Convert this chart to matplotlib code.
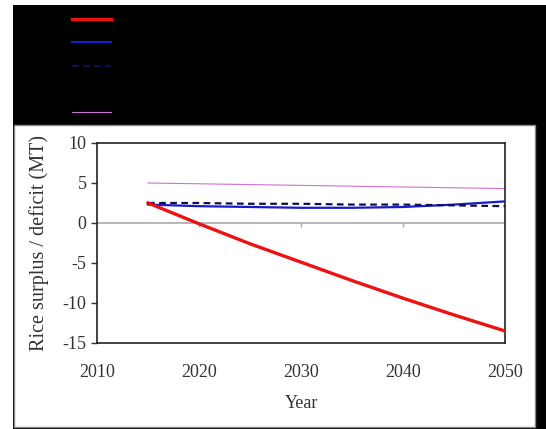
import matplotlib
matplotlib.use("Agg")
import matplotlib.pyplot as plt
from matplotlib.patches import Rectangle

# Projected rice balance by scenario (million tonnes)
years = [2015, 2020, 2025, 2030, 2035, 2040, 2045, 2050]
deficit_high = [2.5, -0.1, -2.6, -4.9, -7.2, -9.4, -11.5, -13.5]
balance_base = [2.3, 2.1, 2.0, 1.9, 1.9, 2.0, 2.3, 2.7]
balance_alt = [2.5, 2.5, 2.4, 2.4, 2.3, 2.3, 2.2, 2.1]
balance_other = [2.4, 2.2, 2.1, 2.0, 2.0, 2.1, 2.2, 2.4]
surplus_low = [5.0, 4.9, 4.8, 4.7, 4.6, 4.5, 4.4, 4.3]

xticks = [2010, 2020, 2030, 2040, 2050]
yticks = [-15, -10, -5, 0, 5, 10]

plt.rcParams["font.family"] = ["Liberation Serif", "DejaVu Serif"]
plt.rcParams["axes.unicode_minus"] = False

fig = plt.figure(figsize=(5.46, 4.29), dpi=100)
fig.patch.set_facecolor("white")

# black backdrop with a white panel holding the chart
fig.add_artist(Rectangle((0.0238, 0.0), 0.9762, 0.989, transform=fig.transFigure,
                         facecolor="black", edgecolor="none", zorder=-3))
fig.add_artist(Rectangle((0.0256, 0.0047), 0.9544, 0.704, transform=fig.transFigure,
                         facecolor="white", edgecolor="#888888", lw=1.0, zorder=-2))

ax = fig.add_axes([0.1777, 0.2005, 0.7473, 0.4662])
ax.set_facecolor("white")

h1, = ax.plot(years, deficit_high, color="#ee1111", lw=2.4, label=" ", zorder=5)
h2, = ax.plot(years, balance_base, color="#1a1acc", lw=1.6, label=" ", zorder=3)
h3, = ax.plot(years, balance_alt, color="#101050", lw=1.6, ls=(0, (3, 2)), label=" ", zorder=4)
h4, = ax.plot(years, balance_other, color="black", lw=0.0, label=" ")
h5, = ax.plot(years, surplus_low, color="#d070d0", lw=0.8, label=" ", zorder=2)

# x axis drawn through zero in grey, with its tick marks
ax.axhline(0, color="#aaaaaa", lw=1.2, zorder=1)
ax.vlines(xticks[1:-1], -0.45, 0, color="#aaaaaa", lw=1.0, zorder=1)

ax.set_xlim(2010, 2050)
ax.set_ylim(-15, 10)
ax.set_xticks(xticks)
ax.set_yticks(yticks)
ax.tick_params(axis="x", length=0, pad=15, labelsize=13, colors="#333333")
ax.tick_params(axis="y", direction="out", length=4, width=1, labelsize=13, colors="#333333")
for side in ["left", "right", "top", "bottom"]:
    ax.spines[side].set_color("#222222")
    ax.spines[side].set_linewidth(1.2)

ax.set_xlabel("Year", fontsize=13, color="#333333", labelpad=10)
ax.set_ylabel("Rice surplus / deficit (MT)", fontsize=14.5, color="#333333", labelpad=10)

fig.legend(handles=[h1, h2, h3, h4, h5], loc="upper left",
           bbox_to_anchor=(0.12, 0.985), frameon=False, fontsize=12,
           handlelength=2.3, labelspacing=0.43, borderaxespad=0.0,
           labelcolor="black")

fig.savefig("out.png", dpi=100)
